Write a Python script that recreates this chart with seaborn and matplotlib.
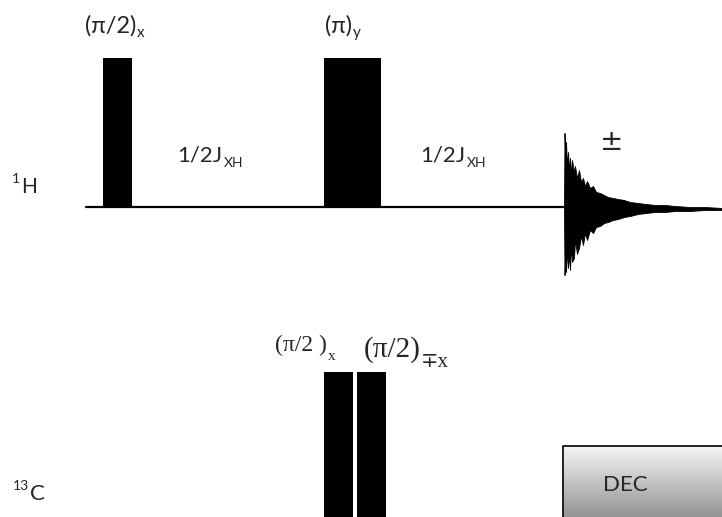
import numpy as np
import matplotlib
matplotlib.use("Agg")
import matplotlib.pyplot as plt
import seaborn as sns

# ---- data (pixel-space layout of the pulse sequence) ----
h_pulse_left = [103, 324]
h_pulse_width = [29, 57]
h_pulse_top = [58, 58]
h_base = 207

c_pulse_left = [324, 357]
c_pulse_width = [29, 29]
c_pulse_top = [372, 372]
c_base = 517

baseline_x = [86, 564]

fid_x = [564, 564.5, 565, 566, 567, 568, 569, 570, 571, 572, 574, 575, 577, 579, 581, 583,
         585, 587, 590, 593, 596, 600, 604, 608, 613, 618, 624, 630, 638, 646, 655, 665,
         675, 690, 705, 722]
fid_top = [207, 133, 150, 142, 165, 152, 170, 158, 175, 160, 172, 166, 178, 170, 182, 178,
           186, 181, 188, 186, 192, 193, 195, 197, 198, 199, 200, 202, 203, 204, 205, 205,
           206, 207, 207, 208]
fid_bot = [209, 275, 262, 272, 250, 268, 255, 270, 246, 262, 258, 240, 254, 248, 236, 245,
           233, 240, 230, 233, 227, 226, 223, 222, 220, 219, 217, 216, 214, 213, 212, 212,
           211, 211, 210, 210]

dec_box = dict(left=563, right=722, top=446, bottom=517)

sns.set_theme(style="white")
plt.rcParams['font.family'] = ['Lato', 'DejaVu Sans']

fig = plt.figure(figsize=(7.22, 5.17), dpi=100)
ax = fig.add_axes([0, 0, 1, 1])

# baseline of 1H
sns.lineplot(x=baseline_x, y=[h_base, h_base], ax=ax, color='black', linewidth=1.6)

# 1H pulses
ax.bar(h_pulse_left, [t - h_base for t in h_pulse_top], width=h_pulse_width,
       bottom=h_base, align='edge', color='black', edgecolor='none')
# 13C pulses
ax.bar(c_pulse_left, [t - c_base for t in c_pulse_top], width=c_pulse_width,
       bottom=c_base, align='edge', color='black', edgecolor='none')

# FID
ax.fill_between(fid_x, fid_top, fid_bot, color='black', linewidth=0.6, edgecolor='black')

# DEC box with gradient
grad = np.linspace(0.96, 0.58, 100).reshape(-1, 1)
ax.imshow(grad, extent=[dec_box['left'], dec_box['right'], dec_box['bottom'], dec_box['top']],
          aspect='auto', cmap='gray', vmin=0, vmax=1, origin='upper', zorder=1)
ax.plot([dec_box['left'], dec_box['left'], dec_box['right']],
        [dec_box['bottom'], dec_box['top'], dec_box['top']], color='black', lw=1.2, zorder=2)

sans = ['Lato', 'DejaVu Sans']
serif = ['Liberation Serif', 'DejaVu Serif']


def label(x, y, main, sub, size, subsize, family, dy=-3, dx=0.5, before=False):
    """main text at baseline (x, y); sub/superscript attached to its right (or left)."""
    if before:
        s = ax.text(x, y, sub, fontsize=subsize, family=family, va='baseline', ha='left')
        ax.annotate(main, xy=(1, 0), xycoords=s, xytext=(dx, dy), textcoords='offset points',
                    fontsize=size, family=family, va='baseline', ha='left')
    else:
        t = ax.text(x, y, main, fontsize=size, family=family, va='baseline', ha='left')
        ax.annotate(sub, xy=(1, 0), xycoords=t, xytext=(dx, dy), textcoords='offset points',
                    fontsize=subsize, family=family, va='baseline', ha='left')


label(85, 33, "(π/2)", "x", 17, 11, sans, dy=0, dx=0.5)
label(325, 33, "(π)", "y", 17, 11, sans, dy=0, dx=0.5)

label(177, 162, "1/2J", "XH", 16, 10, sans, dy=-1, dx=1)
label(420, 162, "1/2J", "XH", 16, 10, sans, dy=-1, dx=1)

ax.text(612, 142, "±", fontsize=20, family=['DejaVu Sans'], va='center', ha='center')

label(12, 183, "H", "1", 15, 10, sans, dy=-6, dx=1, before=True)
label(13, 490, "C", "13", 16, 10, sans, dy=-6, dx=0.5, before=True)

ax.text(603, 491, "DEC", fontsize=16, family=sans, va='baseline', ha='left', zorder=3)

label(275, 351, "(π/2 )", "x", 17, 11, serif, dy=-3, dx=1)
label(364, 357, "(π/2)", "∓x", 21, 15, serif, dy=-3, dx=0)

ax.set_xlim(0, 722)
ax.set_ylim(517, 0)
ax.axis('off')

fig.savefig("out.png", dpi=100)
